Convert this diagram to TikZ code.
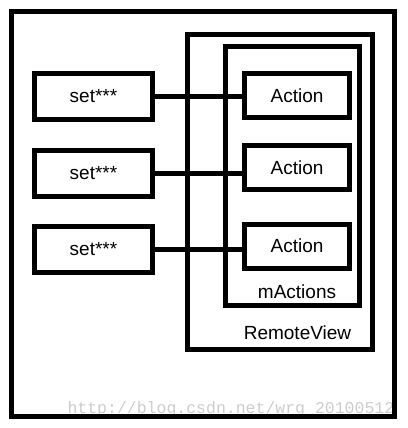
\documentclass[tikz,border=0pt]{standalone}
\usepackage{fontspec}
\setmainfont{Liberation Sans}
\newfontfamily\markfont{Liberation Mono}
\usetikzlibrary{positioning}
\tikzset{box/.style = {draw, rectangle, inner sep=0pt, font=\fontsize{19}{23}\selectfont},
  label/.style = {inner sep=0pt, font=\fontsize{19}{23}\selectfont}}

\begin{document}
\begin{tikzpicture}[x=1pt, y=-1pt, line width=5pt]
  \useasboundingbox (0,0) rectangle (407,428);
  \node[anchor=base west, inner sep=0pt, text=black!20,
    font=\markfont\fontsize{16.5}{20}\selectfont] (mark) at (65,413)
    {http://blog.csdn.net/wrg\_20100512};
  \draw (11.5,12) rectangle (394,416);
  \draw (187,34.5) rectangle (372.5,349.5);
  \draw (225.5,46.5) rectangle (359.5,305.5);
  \node[label] (remote) at (297.5,333) {RemoteView};
  \node[label] (actions) at (297,292) {mActions};
  \foreach \i/\ys/\ya in {1/96.5/95.5, 2/173/167.5, 3/249.5/246} {
    \node[box, minimum width=118pt, minimum height=46pt] (set\i) at (93.5,\ys) {set***};
    \node[box, minimum width=105pt, minimum height=44pt] (act\i) at (297,\ya) {Action};
    \draw (set\i.east) -- (set\i.east -| act\i.west);
  }
\end{tikzpicture}
\end{document}
